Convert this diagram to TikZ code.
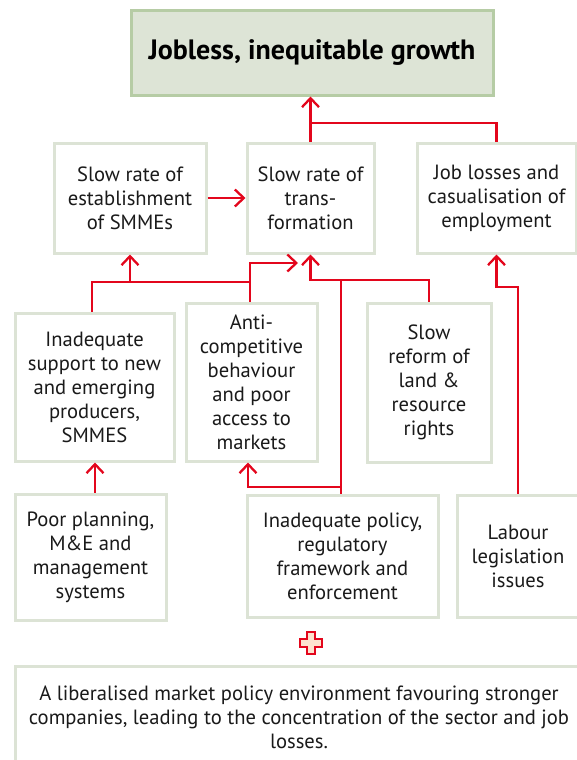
\documentclass[tikz,border=0pt]{standalone}
\usepackage{fontspec}
\setmainfont{PT Sans}
\usetikzlibrary{arrows.meta}
\definecolor{arrred}{HTML}{E3061C}
\definecolor{boxline}{HTML}{DCE3D5}
\definecolor{titlefill}{HTML}{DDE4D6}
\definecolor{titleline}{HTML}{B6CCA5}
\definecolor{crossfill}{HTML}{FDE3CF}
\definecolor{txt}{HTML}{1A1A1A}
\begin{document}
\begin{tikzpicture}[x=1pt,y=-1pt,
  box/.style={draw=boxline, line width=3pt, fill=white, align=center, inner sep=0pt,
    font=\fontsize{20.6}{24}\selectfont, text=txt},
  titlebox/.style={draw=titleline, line width=3pt, fill=titlefill, align=center, inner sep=0pt,
    font=\fontsize{28}{32}\selectfont\bfseries, text=black},
  conn/.style={draw=arrred, line width=2.3pt},
  arr/.style={conn, -{Straight Barb[length=9pt,width=17pt]}}]
\useasboundingbox (0,0) rectangle (577,760);
\clip (0,0) rectangle (577,760);

% boxes
\node[titlebox, minimum width=362pt, minimum height=84pt] (title) at (312,53) {Jobless, inequitable growth};
\node[box, minimum width=152pt, minimum height=110pt] (est) at (130,198) {Slow rate of\\establishment\\of SMMEs};
\node[box, minimum width=127pt, minimum height=110pt] (trans) at (310.5,198) {Slow rate of\\trans-\\formation};
\node[box, minimum width=159pt, minimum height=110pt] (job) at (496.5,198) {Job losses and\\casualisation of\\employment};
\node[box, minimum width=159pt, minimum height=148pt] (inad) at (94.5,387) {Inadequate\\support to new\\and emerging\\producers,\\SMMES};
\node[box, minimum width=131pt, minimum height=158pt] (anti) at (251.5,382) {Anti-\\competitive\\behaviour\\and poor\\access to\\markets};
\node[box, minimum width=124pt, minimum height=159pt] (reform) at (429,382.5) {Slow\\reform of\\land \&\\resource\\rights};
\node[box, minimum width=151pt, minimum height=126pt] (poor) at (90.5,557) {Poor planning,\\M\&E and\\management\\systems};
\node[box, minimum width=191pt, minimum height=122pt] (policy) at (342.5,556) {Inadequate policy,\\regulatory\\framework and\\enforcement};
\node[box, minimum width=122pt, minimum height=122pt] (labour) at (518,556) {Labour\\legislation\\issues};
\node[box, minimum width=568pt, minimum height=102pt] (env) at (299,717) {A liberalised market policy environment favouring stronger\\companies, leading to the concentration of the sector and job\\losses.};

% plus sign
\draw[draw=arrred, line width=1.2pt, fill=crossfill] (307,632) -- (315,632) -- (315,639) -- (322,639) -- (322,647) -- (315,647) -- (315,654) -- (307,654) -- (307,647) -- (300,647) -- (300,639) -- (307,639) -- cycle;

% coordinates
\coordinate (j1) at (310.5,123);
\coordinate (b1) at (92,282);
\coordinate (b2) at (250,282);
\coordinate (b3) at (250,263);
\coordinate (t1) at (298,263);
\coordinate (c1) at (341,280);
\coordinate (c2) at (341,487);
\coordinate (c3) at (248,487);
\coordinate (p1) at (95,500);
\coordinate (l1) at (518,287);

% connectors
\draw[arr] (trans.north) -- (trans.north |- title.south);
\draw[conn] (job.north) |- (j1);
\draw[arr] (est.east) -- (trans.west);
\draw[conn] (b1 |- inad.north) -- (b1) -- (b2);
\draw[arr] (est.south |- b1) -- (est.south);
\draw[arr] (b2 |- anti.north) -- (b3) -- (t1);
\draw[arr] (reform.north) |- (trans.south |- c1) -- (trans.south);
\draw[conn] (c1) -- (c1 |- policy.north);
\draw[arr] (c2) -- (c3) -- (c3 |- anti.south);
\draw[arr] (p1 |- poor.north) -- (p1 |- inad.south);
\draw[arr] (labour.north) -- (l1) -- (job.south |- l1) -- (job.south);
\end{tikzpicture}
\end{document}
